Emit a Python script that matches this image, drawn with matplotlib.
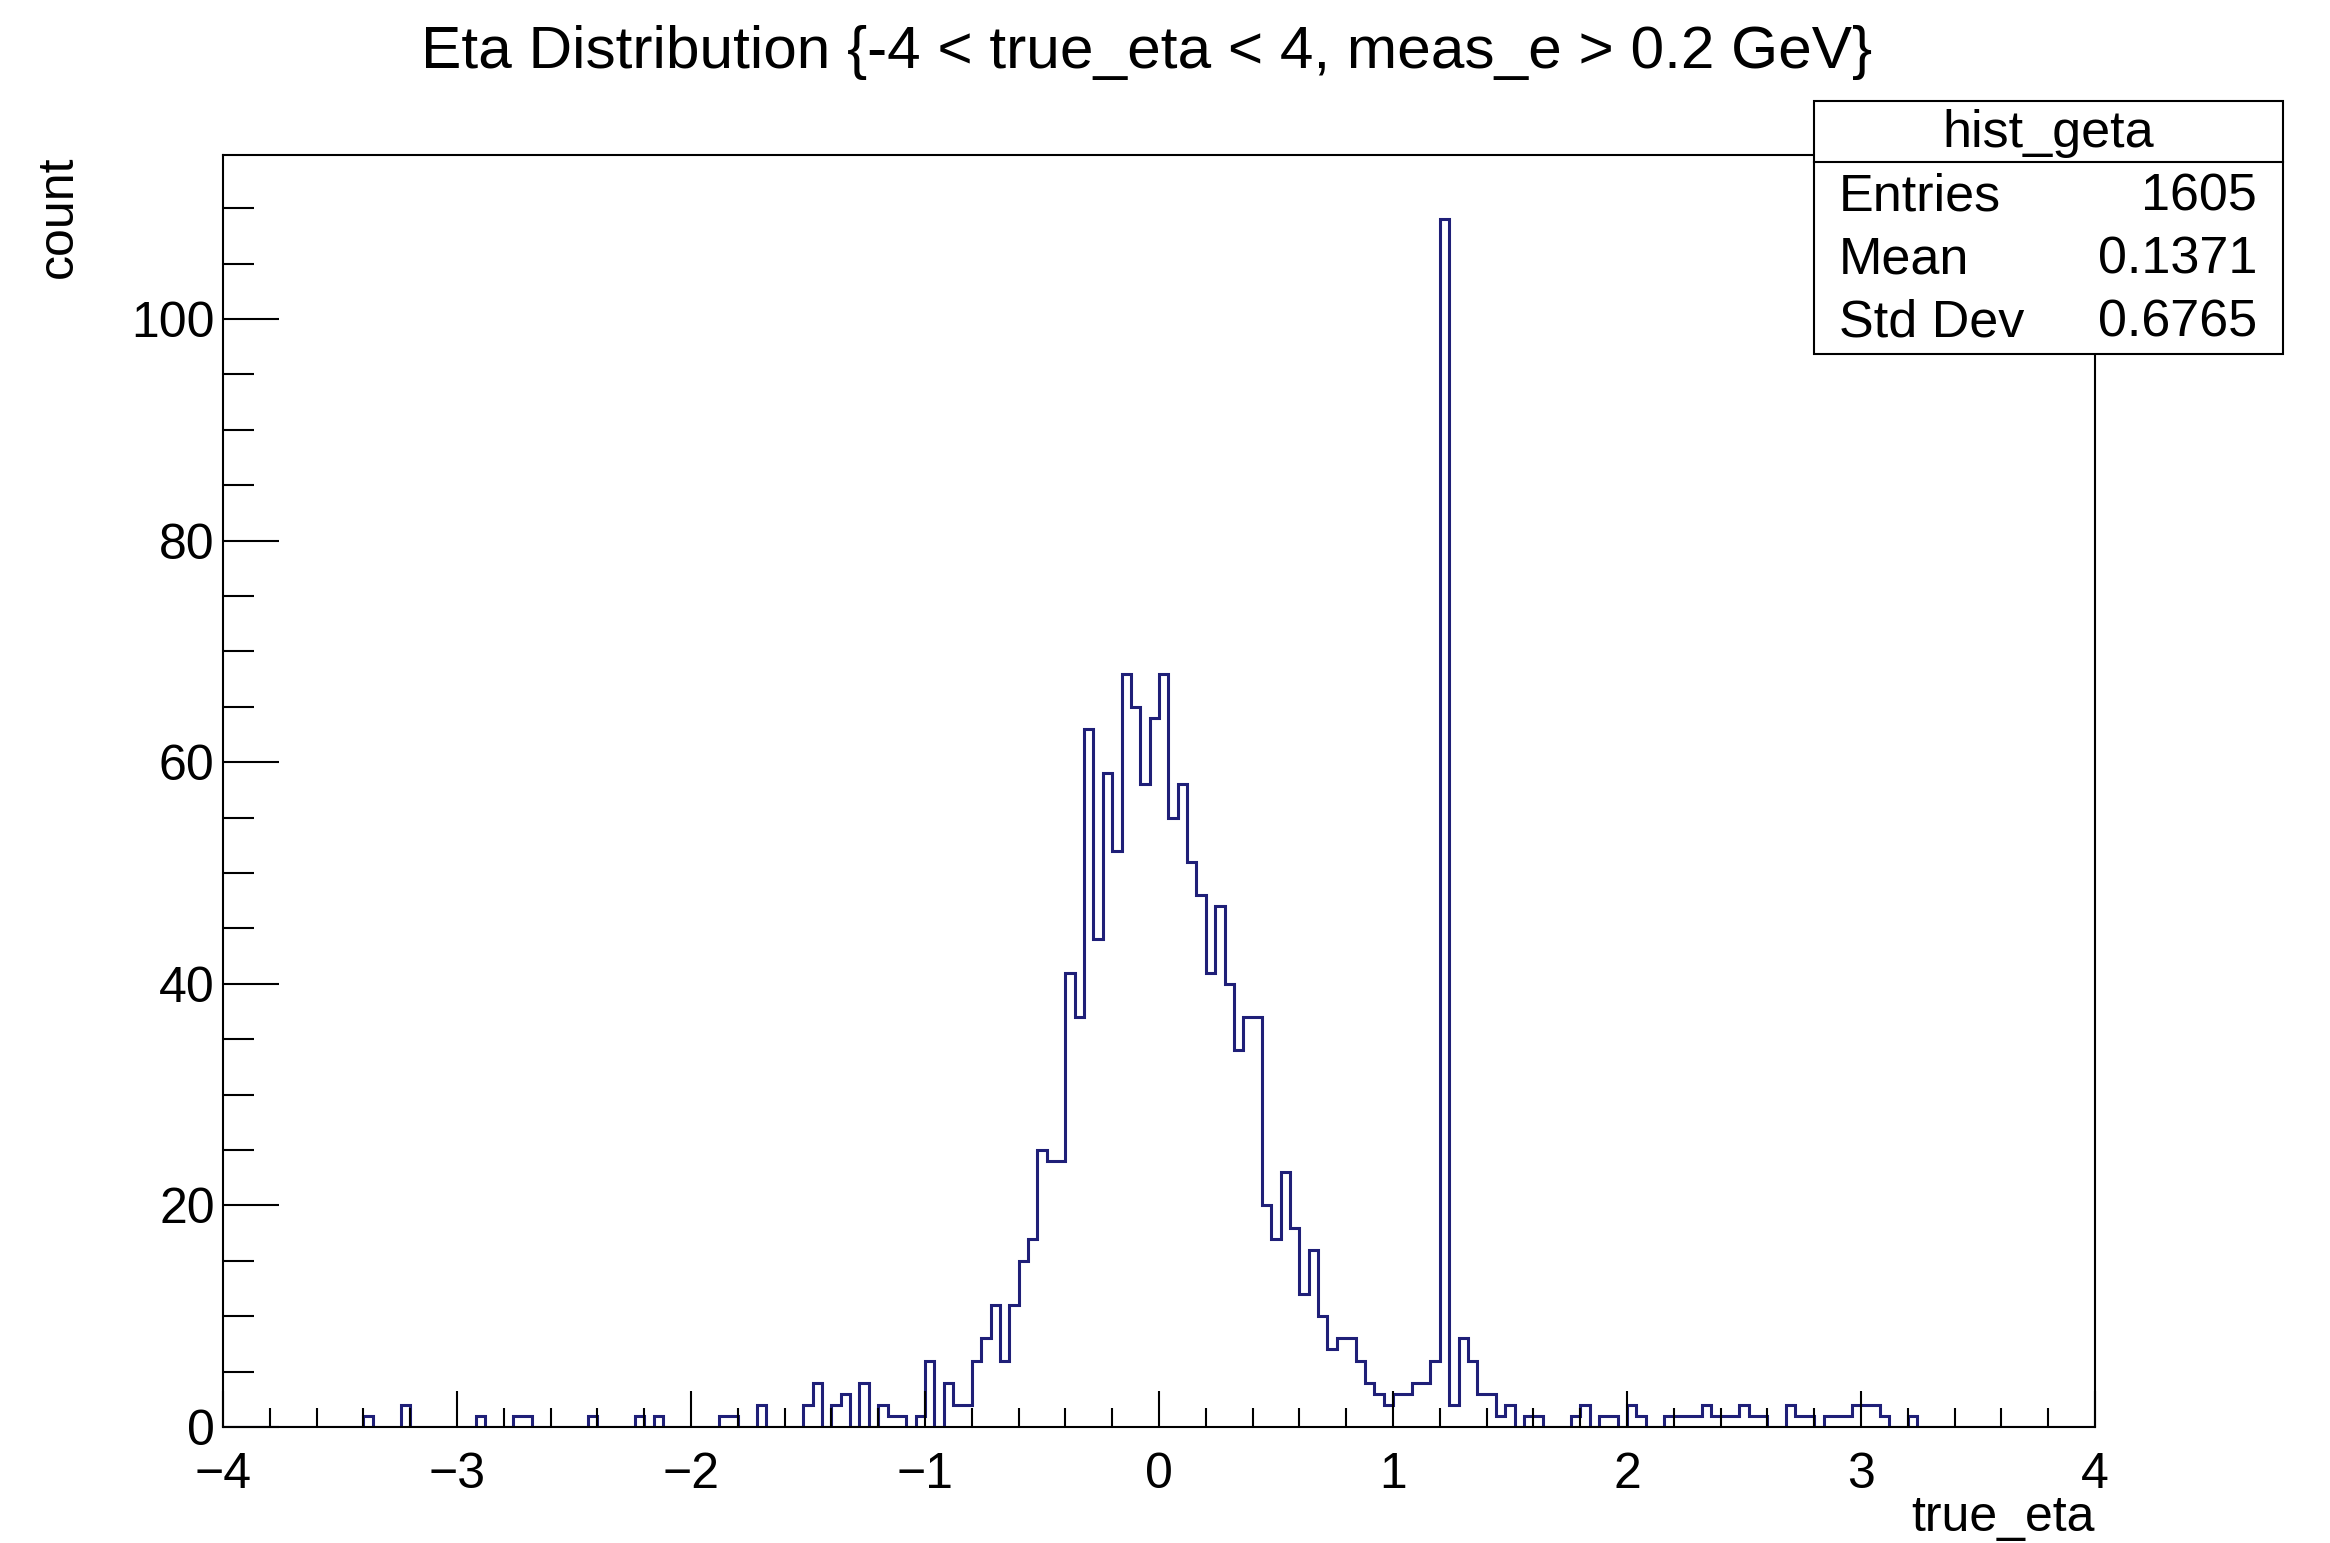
import matplotlib
matplotlib.use("Agg")
import matplotlib.pyplot as plt
import numpy as np
from matplotlib.ticker import MultipleLocator
from matplotlib.patches import Rectangle

plt.rcParams['font.family'] = ['Liberation Sans', 'DejaVu Sans']

# histogram hist_geta: 200 bins from -4 to 4
eta_lo, eta_hi, nbins = -4.0, 4.0, 200
counts = [0]*15 + [1, 0, 0, 0, 2] + [0]*7 + [1, 0, 0, 0, 1, 1] + [0]*6 + \
    [1, 0, 0, 0, 0, 1, 0, 1] + [0]*6 + [1, 1, 0, 0, 2, 0, 0, 0, 0] + \
    [2, 4, 0, 2, 3, 0, 4, 0, 2, 1, 1, 0, 1, 6, 0, 4, 2, 2,          # bins 62-79
     6, 8, 11, 6, 11, 15, 17, 25, 24, 24,                            # 80-89
     41, 37, 63, 44, 59, 52, 68, 65, 58, 64,                         # 90-99
     68, 55, 58, 51, 48, 41, 47, 40, 34, 37,                         # 100-109
     37, 20, 17, 23, 18, 12, 16, 10, 7, 8,                           # 110-119
     8, 6, 4, 3, 2, 3, 3, 4, 4, 6,                                   # 120-129
     109, 2, 8, 6, 3, 3, 1, 2, 0, 1,                                 # 130-139
     1, 0, 0, 0, 1, 2, 0, 1, 1, 0,                                   # 140-149
     2, 1, 0, 0, 1, 1, 1, 1, 2, 1,                                   # 150-159
     1, 1, 2, 1, 1, 0, 0, 2, 1, 1,                                   # 160-169
     0, 1, 1, 1, 2, 2, 2, 1, 0, 0,                                   # 170-179
     1] + [0]*19
counts = np.array(counts, dtype=float)

title = "Eta Distribution {-4 < true_eta < 4, meas_e > 0.2 GeV}"
stat_names = ["Entries", "Mean", "Std Dev"]
stat_values = ["1605", "0.1371", "0.6765"]

W, H = 2330, 1543
fig = plt.figure(figsize=(W/100, H/100), dpi=100)
fig.patch.set_facecolor('white')
ax = fig.add_axes([223/W, 1-1427/H, (2095-223)/W, (1427-155)/H])

edges = np.linspace(eta_lo, eta_hi, nbins+1)
ax.stairs(counts, edges, color='#1f1f78', linewidth=2.2, baseline=0)

ax.set_xlim(eta_lo, eta_hi)
ax.set_ylim(0, 114.8)
ax.xaxis.set_major_locator(MultipleLocator(1))
ax.xaxis.set_minor_locator(MultipleLocator(0.2))
ax.yaxis.set_major_locator(MultipleLocator(20))
ax.yaxis.set_minor_locator(MultipleLocator(5))
ax.tick_params(axis='x', which='major', direction='in', length=26, width=1.5, labelsize=36, pad=18)
ax.tick_params(axis='x', which='minor', direction='in', length=13.5, width=1.5)
ax.tick_params(axis='y', which='major', direction='in', length=40, width=1.5, labelsize=36, pad=6)
ax.tick_params(axis='y', which='minor', direction='in', length=22, width=1.5)
for s in ax.spines.values():
    s.set_linewidth(1.5)
    s.set_color('black')

fig.text(1147/W, 1-53/H, title, ha='center', va='center', fontsize=43.5)
fig.text(59/W, 1-156/H, "count", rotation=90, ha='center', va='top', fontsize=36)
fig.text(2095/W, 1-1518/H, "true_eta", ha='right', va='center', fontsize=36)

# stats box
bx0, bx1, by0, by1, bhead = 1814, 2283, 101, 354, 162
fig.patches.append(Rectangle((bx0/W, 1-by1/H), (bx1-bx0)/W, (by1-by0)/H,
                             transform=fig.transFigure, facecolor='white',
                             edgecolor='black', linewidth=1.5, zorder=5))
fig.add_artist(plt.Line2D([bx0/W, bx1/W], [1-bhead/H, 1-bhead/H],
                          transform=fig.transFigure, color='black', linewidth=1.5, zorder=6))
fig.text((bx0+bx1)/2/W, 1-133/H, "hist_geta", ha='center', va='center', fontsize=37.5, zorder=7)
rows_y = [197, 260, 323]
for name, val, yy in zip(stat_names, stat_values, rows_y):
    fig.text(1839/W, 1-yy/H, name, ha='left', va='center', fontsize=37.5, zorder=7)
    fig.text(2257/W, 1-yy/H, val, ha='right', va='center', fontsize=37.5, zorder=7)

fig.savefig("out.png", dpi=100)
